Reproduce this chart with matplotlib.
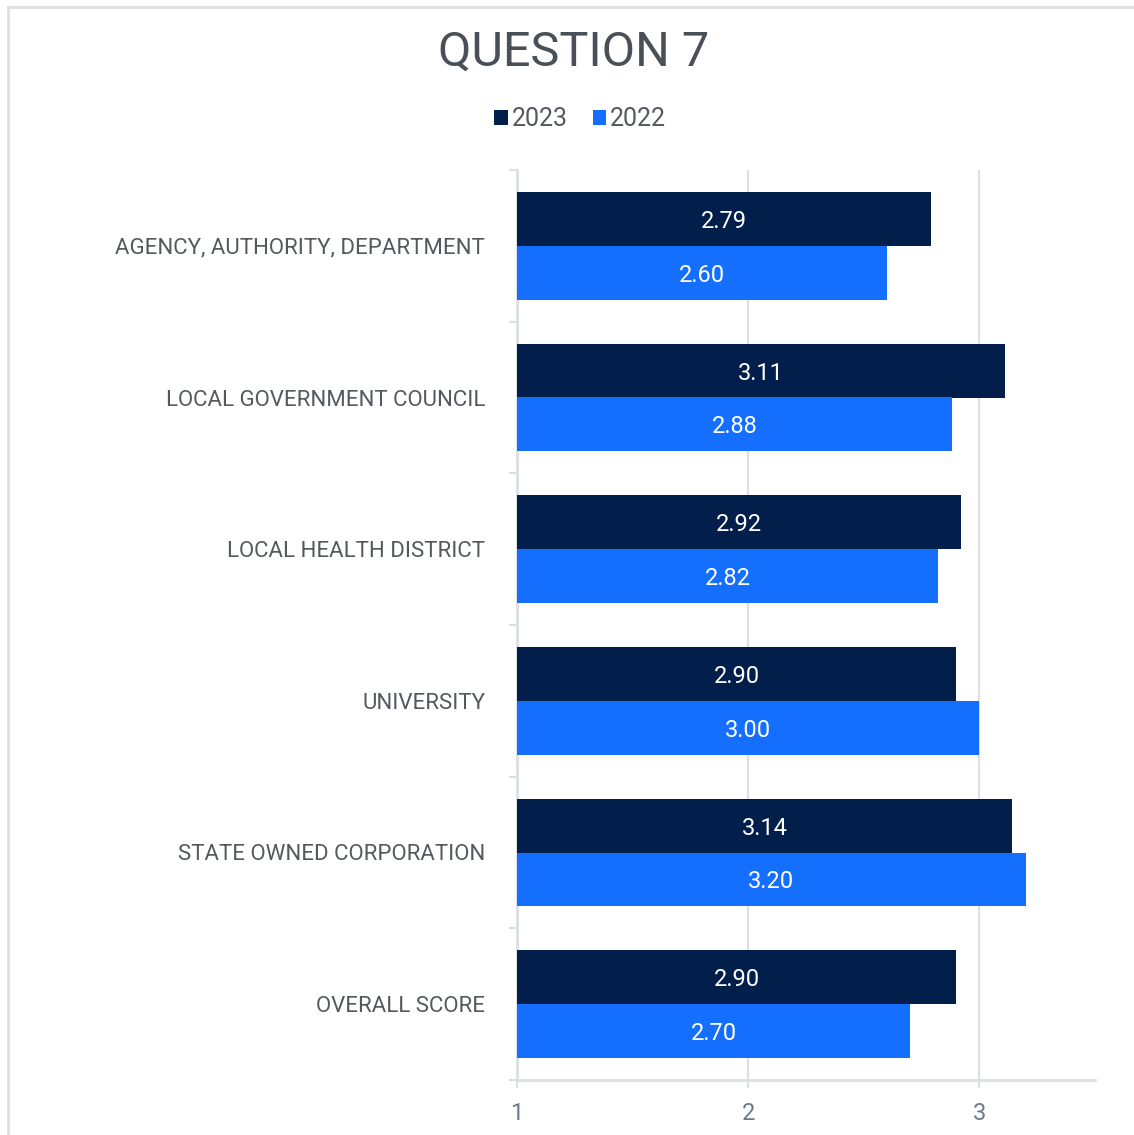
import numpy as np
import matplotlib
matplotlib.use("Agg")
from matplotlib import pyplot as plt
from matplotlib.lines import Line2D

# survey scores per organisation type
categories = ["AGENCY, AUTHORITY, DEPARTMENT", "LOCAL GOVERNMENT COUNCIL",
              "LOCAL HEALTH DISTRICT", "UNIVERSITY",
              "STATE OWNED CORPORATION", "OVERALL SCORE"]
scores_2023 = [2.79, 3.11, 2.92, 2.90, 3.14, 2.90]
scores_2022 = [2.60, 2.88, 2.82, 3.00, 3.20, 2.70]
series_names = ["2023", "2022"]
xticks = [1, 2, 3]

dark = "#021e4b"
light = "#146efe"
grid_c = "#dcdfe3"

plt.rcParams['font.family'] = ['Roboto', 'DejaVu Sans']

W, H = 1134, 1135
fig = plt.figure(figsize=(W / 100, H / 100), dpi=100)
ax = fig.add_axes([517 / W, 1 - 1080 / H, (1095 - 517) / W, (1080 - 170) / H])

y = np.arange(len(categories))
h = 0.356
base = 1
b1 = ax.barh(y - h / 2, np.array(scores_2023) - base, left=base, height=h,
             color=dark, label=series_names[0], zorder=3)
b2 = ax.barh(y + h / 2, np.array(scores_2022) - base, left=base, height=h,
             color=light, label=series_names[1], zorder=3)

# value labels centred inside each bar
for yy, v in zip(y - h / 2, scores_2023):
    ax.text((base + v) / 2, yy, f"{v:.2f}", color="white", fontsize=17,
            ha="center", va="center_baseline", zorder=4)
for yy, v in zip(y + h / 2, scores_2022):
    ax.text((base + v) / 2, yy, f"{v:.2f}", color="white", fontsize=17,
            ha="center", va="center_baseline", zorder=4)

ax.set_xlim(1, 3.5)
ax.set_ylim(len(categories) - 0.5, -0.5)
ax.set_xticks(xticks)
ax.set_xticklabels([str(t) for t in xticks])
ax.set_yticks(y)
ax.set_yticklabels(categories)
ax.set_yticks(np.arange(len(categories) + 1) - 0.5, minor=True)

ax.tick_params(axis="y", which="major", length=0, pad=23,
               labelsize=16, labelcolor="#55595e")
ax.tick_params(axis="y", which="minor", length=6, width=1.5, color=grid_c)
ax.tick_params(axis="x", length=6, width=1.5, color=grid_c, pad=10,
               labelsize=17, labelcolor="#6b7a8b")

ax.grid(axis="x", color=grid_c, linewidth=1.5, zorder=0)
for s in ["top", "right"]:
    ax.spines[s].set_visible(False)
for s in ["left", "bottom"]:
    ax.spines[s].set_color(grid_c)
    ax.spines[s].set_linewidth(2)

fig.text(574 / W, 1 - 53 / H, "QUESTION 7", ha="center", va="center",
         fontsize=35, color="#4a5057")
fig.legend(handles=[b1, b2], loc="center", bbox_to_anchor=(580 / W, 1 - 119 / H),
           ncol=2, frameon=False, fontsize=18, labelcolor="#55595e",
           handlelength=0.55, handleheight=0.55, handletextpad=0.15,
           columnspacing=1.0)

# light frame around the chart area
fig.add_artist(Line2D([8 / W, 8 / W], [0, 1 - 7 / H], color=grid_c, lw=2))
fig.add_artist(Line2D([8 / W, 1], [1 - 7 / H, 1 - 7 / H], color=grid_c, lw=2))

fig.savefig("out.png", dpi=100, facecolor="white")
